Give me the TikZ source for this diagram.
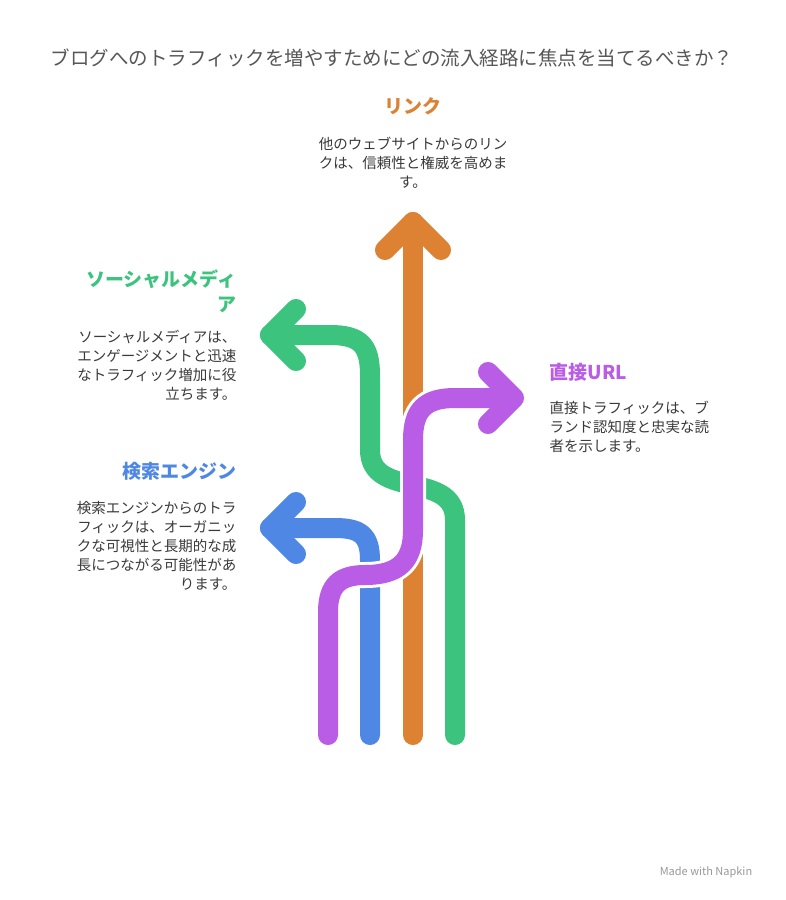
\documentclass[tikz,border=0pt]{standalone}
\usepackage{fontspec}
\setmainfont{Noto Sans CJK JP}
\definecolor{corange}{HTML}{DD8232}
\definecolor{cgreen}{HTML}{3CC47F}
\definecolor{cblue}{HTML}{4E88E4}
\definecolor{cpurple}{HTML}{B95DE6}
\definecolor{ctext}{HTML}{3A3A3A}
\tikzset{
  route/.style={line width=20pt, line cap=round, line join=round},
  gap/.style={line width=26pt, white, line cap=butt},
  title/.style={font=\fontsize{19}{25}\selectfont\bfseries},
  desc/.style={font=\fontsize{14.5}{19}\selectfont, text=ctext},
}
\begin{document}
\begin{tikzpicture}[x=1pt,y=-1pt]
	\useasboundingbox[fill=white] (0,0) rectangle (785,900);
	\node[text=ctext!85, font=\fontsize{19.5}{22}\selectfont] (head) at (392,58) {ブログへのトラフィックを増やすためにどの流入経路に焦点を当てるべきか？};
	% orange - links
	\draw[route,corange] (413,735) -- (413,222);
	\draw[route,corange] (385,250) -- (413,222) -- (441,250);
	% green - social media
	\draw[gap] (455,728) -- (455,520) .. controls (455,470) and (370,500) .. (370,450);
	\draw[route,cgreen] (455,735) -- (455,520) .. controls (455,470) and (370,500) .. (370,450) -- (370,375) .. controls (370,345) and (360,335) .. (330,335) -- (270,335);
	\draw[route,cgreen] (296,309) -- (270,335) -- (296,361);
	% blue - search engines
	\draw[route,cblue] (370,735) -- (370,560) .. controls (370,535) and (360,528) .. (335,528) -- (270,528);
	\draw[route,cblue] (296,502) -- (270,528) -- (296,554);
	% purple - direct url
	\draw[gap,line cap=round] (328,725) -- (328,612) .. controls (328,585) and (340,575) .. (365,575) .. controls (400,575) and (413,560) .. (413,530) -- (413,440) .. controls (413,410) and (425,398) .. (455,398) -- (505,398);
	\draw[route,cpurple] (328,735) -- (328,612) .. controls (328,585) and (340,575) .. (365,575) .. controls (400,575) and (413,560) .. (413,530) -- (413,440) .. controls (413,410) and (425,398) .. (455,398) -- (512,398);
	\draw[route,cpurple] (488,372) -- (514,398) -- (488,424);
	% labels
	\node[title,text=corange] (link) at (413,106) {リンク};
	\node[desc,align=center] (linkd) at (413,163) {他のウェブサイトからのリン\\クは、信頼性と権威を高めま\\す。};
	\node[title,text=cgreen,align=right,anchor=north east] (sns) at (240,266) {ソーシャルメディ\\ア};
	\node[desc,align=right,anchor=north east] (snsd) at (240,327) {ソーシャルメディアは、\\エンゲージメントと迅速\\なトラフィック増加に役\\立ちます。};
	\node[title,text=cblue,anchor=east] (search) at (240,471) {検索エンジン};
	\node[desc,align=right,anchor=north east] (searchd) at (240,498) {検索エンジンからのトラ\\フィックは、オーガニッ\\クな可視性と長期的な成\\長につながる可能性があ\\ります。};
	\node[title,text=cpurple,anchor=west] (url) at (546,372) {直接URL};
	\node[desc,align=left,anchor=north west] (urld) at (546,398) {直接トラフィックは、ブ\\ランド認知度と忠実な読\\者を示します。};
	\node[text=black!40,font=\fontsize{11}{13}\selectfont] (napkin) at (706,872) {Made with Napkin};
\end{tikzpicture}
\end{document}
